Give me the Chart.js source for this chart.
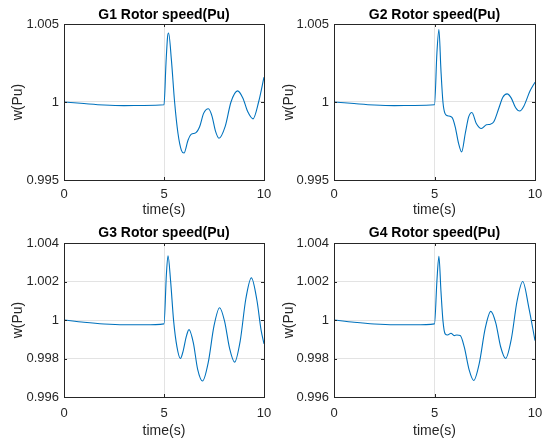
<!DOCTYPE html>
<html>
<head>
<meta charset="utf-8">
<script src="https://cdn.jsdelivr.net/npm/chart.js@4/dist/chart.umd.min.js"></script>
<style>
  html, body { margin: 0; padding: 0; background: #ffffff; }
  #wrap { position: relative; width: 542px; height: 441px; overflow: hidden; background: #fff; }
  canvas { position: absolute; }
</style>
</head>
<body>
<div id="wrap">
  <canvas id="c1" width="271" height="220" style="left:0;top:0"></canvas>
  <canvas id="c2" width="271" height="220" style="left:271px;top:0"></canvas>
  <canvas id="c3" width="271" height="221" style="left:0;top:220px"></canvas>
  <canvas id="c4" width="271" height="221" style="left:271px;top:220px"></canvas>
</div>
<script>
// ---------- DATA ----------
const titles = ['G1 Rotor speed(Pu)', 'G2 Rotor speed(Pu)', 'G3 Rotor speed(Pu)', 'G4 Rotor speed(Pu)'];
const xTitle = 'time(s)';
const yTitle = 'w(Pu)';

const xTicks = [0, 5, 10];
const xTickLabels = ['0', '5', '10'];

const yTicksTop = [0.995, 1, 1.005];
const yTickLabelsTop = ['0.995', '1', '1.005'];
const yTicksBottom = [0.996, 0.998, 1, 1.002, 1.004];
const yTickLabelsBottom = ['0.996', '0.998', '1', '1.002', '1.004'];

const time1  = [0, 1, 2, 3, 4, 5.0, 5.1, 5.18, 5.23, 5.37, 5.53, 5.7, 5.87, 6.0, 6.2, 6.37, 6.58, 6.78, 6.98, 7.22, 7.40, 7.57, 7.75, 8.06, 8.35, 8.68, 8.94, 9.19, 9.45, 9.73, 10];
const speed1 = [1.0, 0.99990, 0.99981, 0.99977, 0.99978, 0.99982, 1.0025, 1.0042, 1.00442, 1.0027, 1.0, 0.99798, 0.99690, 0.99673, 0.99755, 0.99794, 0.99802, 0.99841, 0.99927, 0.99957, 0.99910, 0.99815, 0.99768, 0.99844, 1.0, 1.00071, 1.00026, 0.99937, 0.99892, 1.0, 1.00159];

const time2  = [0, 1, 2, 3, 4, 5.0, 5.12, 5.22, 5.32, 5.42, 5.52, 5.65, 5.87, 6.03, 6.2, 6.35, 6.53, 6.7, 6.86, 7.08, 7.33, 7.58, 7.78, 7.95, 8.2, 8.4, 8.61, 8.82, 9.03, 9.24, 9.45, 9.75, 10];
const speed2 = [1.0, 0.99990, 0.99981, 0.99977, 0.99978, 0.99982, 1.00314, 1.00465, 1.00206, 1.0, 0.99927, 0.99912, 0.99901, 0.99841, 0.99733, 0.9968, 0.99798, 0.99905, 0.99933, 0.99862, 0.9983, 0.99854, 0.99858, 0.99873, 0.9996, 1.0003, 1.00052, 1.00025, 0.99965, 0.99942, 0.99975, 1.0007, 1.00127];

const time3  = [0, 1, 2, 3, 4, 5.0, 5.12, 5.2, 5.33, 5.48, 5.65, 5.82, 5.96, 6.11, 6.25, 6.47, 6.68, 6.93, 7.21, 7.5, 7.78, 8.03, 8.28, 8.53, 8.81, 9.09, 9.37, 9.65, 9.85, 10];
const speed3 = [1.0, 0.99988, 0.99979, 0.99975, 0.99975, 0.99980, 1.00238, 1.00334, 1.00203, 0.99997, 0.99859, 0.998, 0.99840, 0.99912, 0.9995, 0.99880, 0.99745, 0.99683, 0.99778, 0.99969, 1.00064, 0.99993, 0.99852, 0.99781, 0.99891, 1.00109, 1.00219, 1.001, 0.9995, 0.99876];

const time4  = [0, 1, 2, 3, 4, 5.0, 5.12, 5.22, 5.32, 5.42, 5.53, 5.65, 5.82, 5.98, 6.11, 6.28, 6.48, 6.72, 6.95, 7.23, 7.52, 7.8, 8.05, 8.29, 8.54, 8.82, 9.11, 9.39, 9.69, 10];
const speed4 = [1.0, 0.99988, 0.99979, 0.99975, 0.99975, 0.99980, 1.00203, 1.00331, 1.00152, 0.99997, 0.99928, 0.99922, 0.99931, 0.99919, 0.99922, 0.99919, 0.99860, 0.99742, 0.99686, 0.99776, 0.99955, 1.00045, 0.99984, 0.99861, 0.998, 0.999, 1.001, 1.002, 1.00066, 0.99893];

// ---------- STYLE ----------
const FONT = "'Liberation Sans', Arial, Helvetica, sans-serif";
const TXT = '#262626';
const GRID = '#e3e3e3';
const LINE = '#0072BD';

const boxPlugin = {
  id: 'matlabBox',
  afterDatasetsDraw(chart) {
    const {ctx, chartArea: a, scales} = chart;
    ctx.save();
    ctx.strokeStyle = TXT;
    ctx.lineWidth = 1;
    const tl = 3;
    ctx.beginPath();
    scales.x.ticks.forEach(t => {
      const px = Math.round(scales.x.getPixelForValue(t.value)) + 0.5;
      ctx.moveTo(px, a.bottom); ctx.lineTo(px, a.bottom - tl);
      ctx.moveTo(px, a.top); ctx.lineTo(px, a.top + tl);
    });
    scales.y.ticks.forEach(t => {
      const py = Math.round(scales.y.getPixelForValue(t.value)) + 0.5;
      ctx.moveTo(a.left, py); ctx.lineTo(a.left + tl, py);
      ctx.moveTo(a.right, py); ctx.lineTo(a.right - tl, py);
    });
    ctx.stroke();
    ctx.strokeRect(Math.round(a.left) + 0.5, Math.round(a.top) + 0.5, Math.round(a.right - a.left), Math.round(a.bottom - a.top));
    ctx.restore();
  }
};

function makeChart(id, title, t, w, yTicks, yLabels, L) {
  const pts = t.map((x, i) => ({x: x, y: w[i]}));
  return new Chart(document.getElementById(id), {
    type: 'line',
    data: { datasets: [{
      data: pts, borderColor: LINE, borderWidth: 1.1, pointRadius: 0, fill: false,
      cubicInterpolationMode: 'monotone'
    }]},
    options: {
      responsive: false,
      animation: false,
      events: [],
      layout: { padding: { left: 0, right: L.right, top: 0, bottom: 0 } },
      plugins: {
        legend: { display: false },
        tooltip: { enabled: false },
        title: {
          display: true, text: title, color: '#000', fullSize: false,
          font: { family: FONT, size: 14, weight: 'bold', lineHeight: 1.2 },
          padding: { top: L.titleTop, bottom: L.titleBottom }
        }
      },
      scales: {
        x: {
          type: 'linear', min: 0, max: 10,
          afterBuildTicks: s => { s.ticks = xTicks.map(v => ({value: v})); },
          afterFit: s => { s.height = L.xh; s.paddingLeft = 0; s.paddingRight = 0; },
          ticks: { callback: (v, i) => xTickLabels[i], color: TXT, padding: L.xpad, maxRotation: 0,
                   font: { family: FONT, size: 13 } },
          grid: { color: GRID, drawTicks: false, lineWidth: 1 },
          border: { display: false },
          title: { display: true, text: xTitle, color: TXT, font: { family: FONT, size: 14 },
                   padding: { top: 0, bottom: 1 } }
        },
        y: {
          type: 'linear', min: yTicks[0], max: yTicks[yTicks.length - 1],
          afterBuildTicks: s => { s.ticks = yTicks.map(v => ({value: v})); },
          afterFit: s => { s.width = L.yw; s.paddingTop = 0; s.paddingBottom = 0; },
          ticks: { callback: (v, i) => yLabels[i], color: TXT, padding: 5,
                   font: { family: FONT, size: 13 } },
          grid: { color: GRID, drawTicks: false, lineWidth: 1 },
          border: { display: false },
          title: { display: true, text: yTitle, color: TXT, font: { family: FONT, size: 14 },
                   padding: { top: 10, bottom: 0 } }
        }
      }
    },
    plugins: [boxPlugin]
  });
}

makeChart('c1', titles[0], time1, speed1, yTicksTop, yTickLabelsTop,
  { right: 7, yw: 64, xh: 40, titleTop: 6.6, titleBottom: 0.6, xpad: 7 });
makeChart('c2', titles[1], time2, speed2, yTicksTop, yTickLabelsTop,
  { right: 7, yw: 63, xh: 40, titleTop: 6.6, titleBottom: 0.6, xpad: 7 });
makeChart('c3', titles[2], time3, speed3, yTicksBottom, yTickLabelsBottom,
  { right: 7, yw: 64, xh: 44, titleTop: 5, titleBottom: 1.2, xpad: 9 });
makeChart('c4', titles[3], time4, speed4, yTicksBottom, yTickLabelsBottom,
  { right: 7, yw: 63, xh: 44, titleTop: 5, titleBottom: 1.2, xpad: 9 });
</script>
</body>
</html>
